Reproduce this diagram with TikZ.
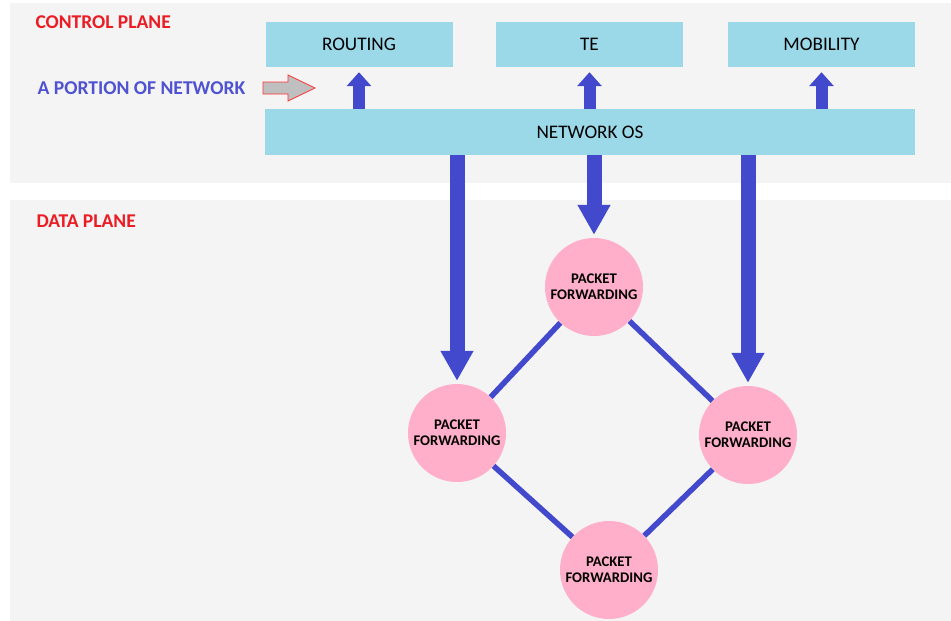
\documentclass[tikz,border=0pt]{standalone}
\usepackage{fontspec}
\setmainfont{Carlito}
\usetikzlibrary{arrows.meta}

\definecolor{panelgray}{HTML}{F4F4F4}
\definecolor{boxblue}{HTML}{9BD9E9}
\definecolor{linkblue}{HTML}{4249CC}
\definecolor{nodepink}{HTML}{FFAFC9}
\definecolor{planered}{HTML}{EC1C24}
\definecolor{notetext}{HTML}{4F52D2}

\tikzset{
    appbox/.style={fill=boxblue, minimum width=187pt, minimum height=45pt, inner sep=0pt,
        font=\fontsize{19.2}{20}\selectfont},
    fwd/.style={circle, fill=nodepink, minimum size=98pt, inner sep=0pt, align=center,
        font=\bfseries\fontsize{14.7}{16}\selectfont},
    planelabel/.style={anchor=west, text=planered, font=\bfseries\fontsize{19.5}{20}\selectfont},
    uparrow/.style={draw=linkblue, line width=12pt, -{Triangle[width=24pt,length=14pt]}},
    downarrow/.style={draw=linkblue, line width=15pt, -{Triangle[width=31pt,length=30pt]}},
    link/.style={draw=linkblue, line width=5.5pt}
}

\begin{document}
\begin{tikzpicture}[x=1pt, y=-1pt]
    \useasboundingbox (0,0) rectangle (951,621);
    %planes
    \fill[panelgray] (10,3) rectangle (951,183);
    \fill[panelgray] (10,200) rectangle (951,621);
    \node[planelabel] (cp) at (32,22) {CONTROL PLANE};
    \node[planelabel] (dp) at (33,221) {DATA PLANE};
    \node[anchor=west, text=notetext, font=\bfseries\fontsize{19.6}{20}\selectfont] (portion) at (34,88) {A PORTION OF NETWORK};
    \filldraw[fill=gray!50, draw=red!80, line width=0.8pt]
        (263,82) -- (288,82) -- (288,75) -- (315,88) -- (288,101) -- (288,94) -- (263,94) -- cycle;
    %apps
    \node[appbox] (rt) at (359,44.5) {ROUTING};
    \node[appbox] (te) at (589.5,44.5) {TE};
    \node[appbox] (mob) at (821.5,44.5) {MOBILITY};
    \node[appbox, minimum width=650pt, minimum height=46pt] (nos) at (590,132) {NETWORK OS};
    \draw[uparrow] (nos.north -| rt.south) -- ([yshift=-5pt]rt.south);
    \draw[uparrow] (nos.north -| te.south) -- ([yshift=-5pt]te.south);
    \draw[uparrow] (nos.north -| mob.south) -- ([yshift=-5pt]mob.south);
    %switches
    \node[fwd] (ft) at (594,287) {PACKET\\FORWARDING};
    \node[fwd] (fl) at (457,433) {PACKET\\FORWARDING};
    \node[fwd] (fr) at (748,435) {PACKET\\FORWARDING};
    \node[fwd] (fb) at (609,570) {PACKET\\FORWARDING};
    \draw[link] (ft) -- (fl);
    \draw[link] (ft) -- (fr);
    \draw[link] (fl) -- (fb);
    \draw[link] (fr) -- (fb);
    \draw[downarrow] (nos.south -| fl.north) -- ([yshift=3pt]fl.north);
    \draw[downarrow] (nos.south -| ft.north) -- ([yshift=3pt]ft.north);
    \draw[downarrow] (nos.south -| fr.north) -- ([yshift=3pt]fr.north);
\end{tikzpicture}
\end{document}
